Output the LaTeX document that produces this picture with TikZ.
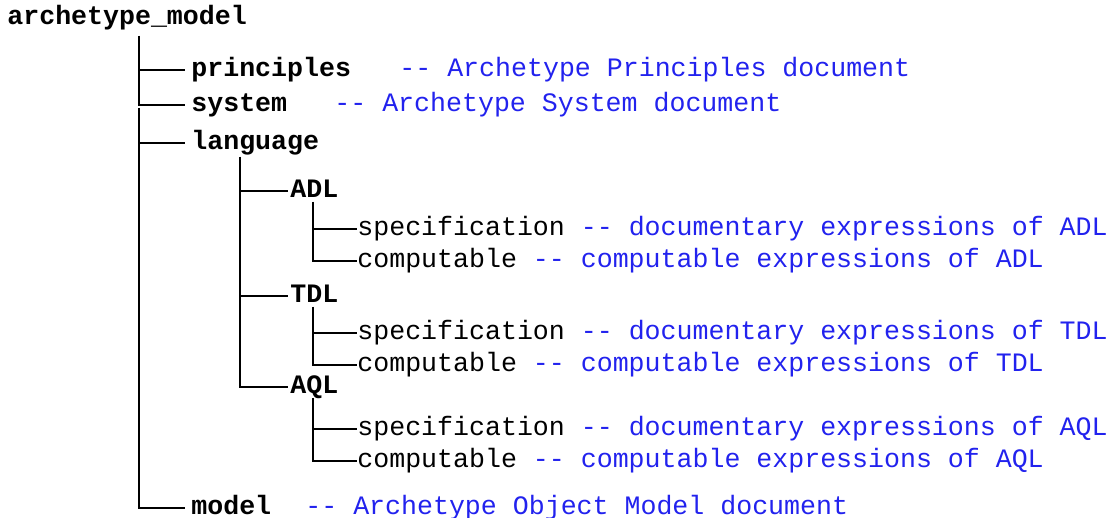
\documentclass[tikz,border=0pt]{standalone}
\usepackage{fontspec}
\newfontfamily\cour{Liberation Mono}
\definecolor{cmt}{RGB}{34,34,238}

\begin{document}
\begin{tikzpicture}
  [x=0.5pt, y=-0.5pt,
   every node/.style={inner ysep=0pt, text height=9pt, text depth=2pt,
                      font=\cour\fontsize{13.3}{16}\selectfont},
   bold/.style={font=\cour\bfseries\fontsize{13.3}{16}\selectfont},
   top/.style={bold, anchor=west, inner xsep=0pt},
   item/.style={bold, anchor=west, inner xsep=3pt},
   sub/.style={bold, anchor=west, inner xsep=1pt},
   leaf/.style={anchor=west, inner xsep=0pt},
   note/.style={anchor=west, inner xsep=0pt, text=cmt},
   branch/.style={draw=black, line width=1pt}]
  \useasboundingbox (0,0) rectangle (1110,518);
  % root
  \node (archetype) at (7,18) [top] {archetype\_model};
  % first level
  \node (principles) at (185,70) [item] {principles};
  \node (system) at (185,105) [item] {system};
  \node (language) at (185,143) [item] {language};
  \node (model) at (185,508) [item] {model};
  % notes
  \node (principlesnote) at (399,70) [note] {-{}- Archetype Principles document};
  \node (systemnote) at (334,105) [note] {-{}- Archetype System document};
  \node (modelnote) at (305,508) [note] {-{}- Archetype Object Model document};
  % root edges
  \coordinate (roottop) at (139,36);
  \coordinate (rootmid) at (139,108);
  \draw [branch] (roottop) |- (principles.west);
  \draw [branch] (roottop) |- (system.west);
  \foreach \n in {language, model} {
    \draw [branch] (rootmid) |- (\n.west);
  };
  % languages and their documents
  \coordinate (langtop) at (240,157);
  \foreach \lang/\y/\s/\c in {ADL/191/229/261, TDL/296/333/365, AQL/387/429/461} {
    \node (\lang) at (288,\y) [sub] {\lang};
    \node (spec\lang) at (357,\s) [leaf]
      {specification \textcolor{cmt}{-{}- documentary expressions of \lang}};
    \node (comp\lang) at (357,\c) [leaf]
      {computable \textcolor{cmt}{-{}- computable expressions of \lang}};
    \coordinate (top\lang) at (313,\y+11);
    \draw [branch] (langtop) |- (\lang.west);
    \draw [branch] (top\lang) |- (spec\lang.west);
    \draw [branch] (top\lang) |- (comp\lang.west);
  };
\end{tikzpicture}
\end{document}
